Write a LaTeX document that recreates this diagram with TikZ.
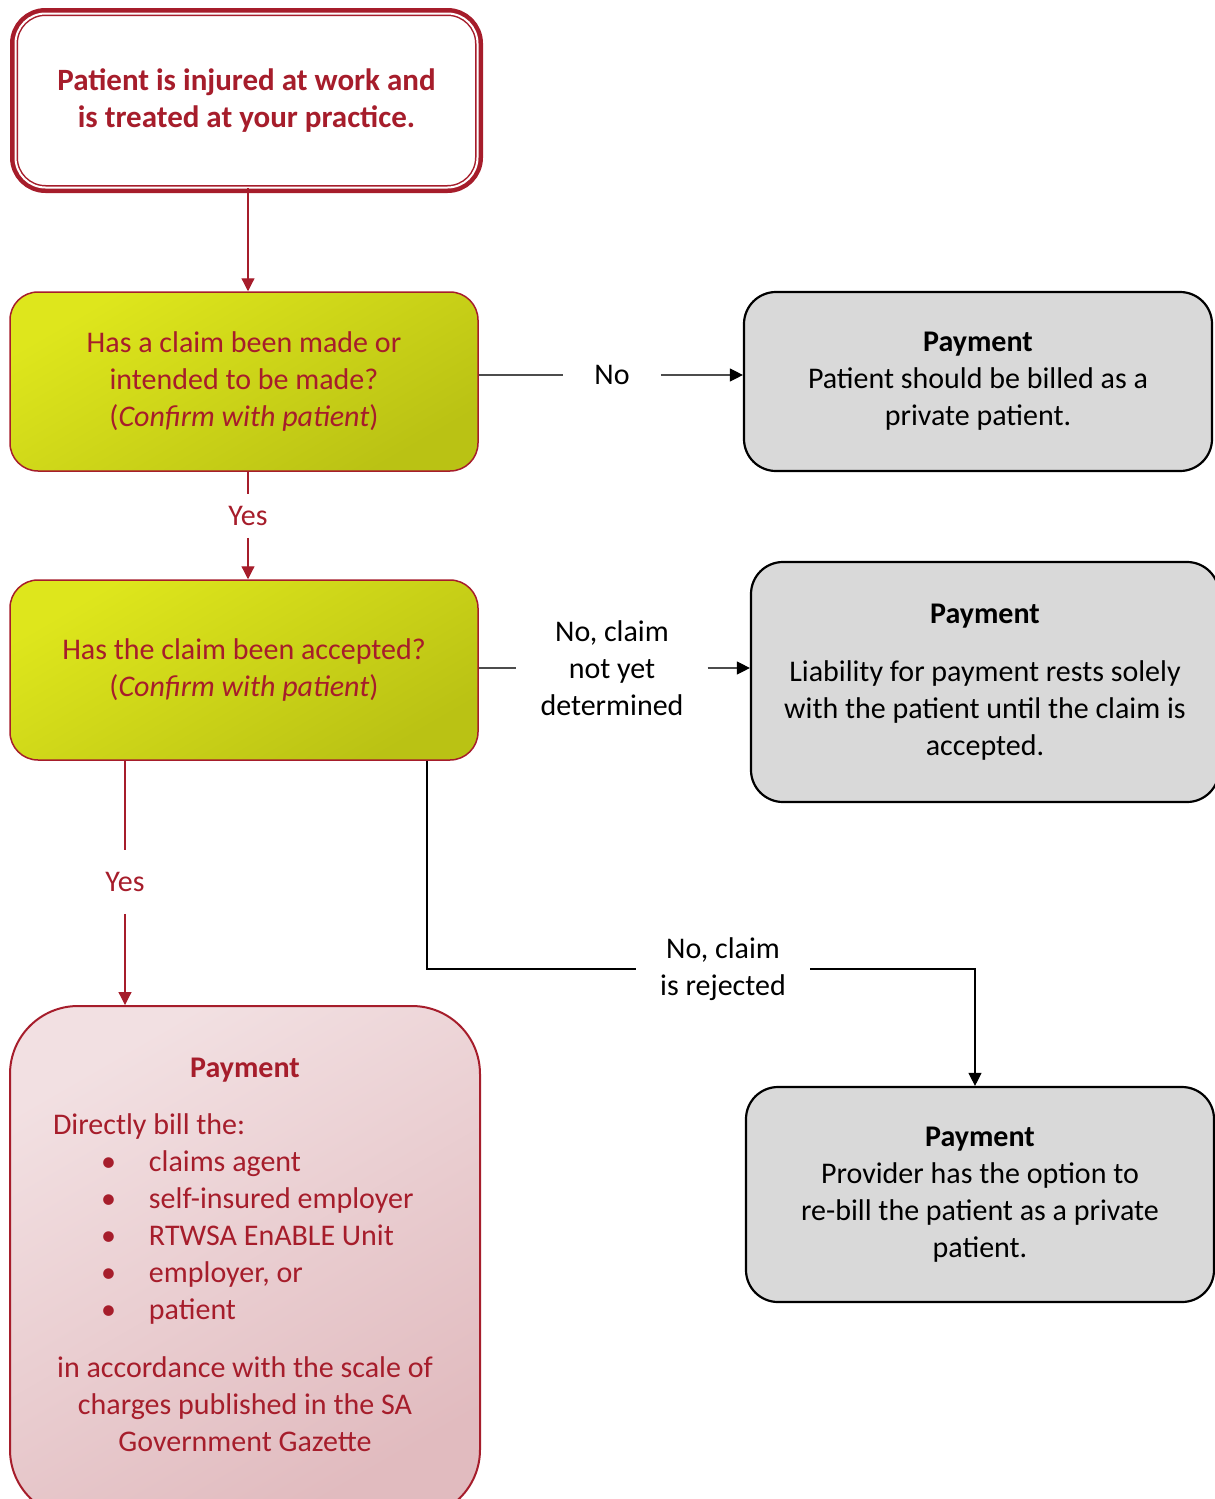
\documentclass[tikz,border=0pt]{standalone}
\usepackage{fontspec}
\usepackage{xcolor}
\usepackage{tikz}
\usetikzlibrary{arrows.meta}
\setmainfont{Carlito}
\setlength{\parindent}{0pt}
\definecolor{wsred}{RGB}{166,29,43}
\definecolor{limetop}{RGB}{222,230,28}
\definecolor{limebot}{RGB}{186,194,20}
\definecolor{pinktop}{RGB}{242,224,226}
\definecolor{pinkbot}{RGB}{225,187,191}
\definecolor{paygray}{RGB}{217,217,217}
\newcommand{\txt}{\fontsize{30}{37}\selectfont}
\newcommand{\pitem}[1]{\par\hspace*{48pt}\makebox[48pt][l]{\textbullet}#1}

\begin{document}
\begin{tikzpicture}[x=1pt,y=-1pt]
    \def\bw{468pt}

    \tikzstyle{start}=[draw=wsred,line width=1.5pt,double=white,double distance=2pt,preaction={draw=wsred,line width=11pt},fill=white,rounded corners=30pt,minimum width=462pt,minimum height=174pt,align=center,text=wsred,font=\fontsize{31}{37}\selectfont\bfseries]
    \tikzstyle{question}=[draw=wsred,line width=1.5pt,top color=limetop,bottom color=limebot,shading angle=30,rounded corners=28pt,minimum width=\bw,minimum height=179pt,align=center,text=wsred,font=\txt]
    \tikzstyle{payment}=[draw=black,line width=2.2pt,fill=paygray,rounded corners=32pt,minimum width=\bw,align=center,font=\txt]
    \tikzstyle{billing}=[draw=wsred,line width=2pt,top color=pinktop,bottom color=pinkbot,shading angle=30,rounded corners=68pt,minimum width=470pt,text width=384pt,inner ysep=52pt,align=flush center,text=wsred,font=\txt]
    \tikzstyle{branch}=[align=center,inner xsep=24pt,font=\txt]

    \useasboundingbox (0,0) rectangle (1215,1499);

    \node[start] (inj) at (246.5,100.5) {Patient is injured at work and\\is treated at your practice.};

    \node[question] (made) at (244,381.5) {Has a claim been made or\\intended to be made?\\(\textit{Confirm with patient})};
    \node[payment,minimum height=179pt] (priv) at (978,381.5) {\textbf{Payment}\\Patient should be billed as a\\private patient.};

    \node[question,minimum height=180pt] (accd) at (244,670) {Has the claim been accepted?\\(\textit{Confirm with patient})};
    \node[payment,minimum height=240pt] (liab) at (985,682) {\textbf{Payment}\\[21pt]Liability for payment rests solely\\with the patient until the claim is\\accepted.};

    \node[billing,anchor=north] (direct) at (245,1005) {\textbf{Payment}\par\vspace{20pt}
        {\raggedright Directly bill the:\pitem{claims agent}\pitem{self-insured employer}\pitem{RTWSA EnABLE Unit}\pitem{employer, or}\pitem{patient}\par}
        \vspace{21pt}
        in accordance with the scale of\\charges published in the SA\\Government Gazette\par\vspace*{14pt}};
    \node[payment,minimum height=215pt] (rebill) at (980,1194.5) {\textbf{Payment}\\Provider has the option to\\re-bill the patient as a private\\patient.};

    \node[branch,inner xsep=31pt] (no) at (612,375) {No};
    \node[branch,inner ysep=12pt,text=wsred] (yes1) at (248,516) {Yes};
    \node[branch] (notyet) at (612,668) {No, claim\\not yet\\determined};
    \node[branch,inner ysep=22pt,text=wsred] (yes2) at (125,882) {Yes};
    \node[branch] (reject) at (723,969) {No, claim\\is rejected};

    \coordinate (rjA) at (427,969);
    \coordinate (rjB) at (975,969);

    \tikzstyle{redline}=[draw=wsred,line width=1.2pt]
    \tikzstyle{redarr}=[redline,-{Triangle[width=13pt,length=13pt]}]
    \tikzstyle{greyline}=[draw=black!70,line width=1.2pt]
    \tikzstyle{greyarr}=[greyline,-{Triangle[width=13pt,length=13pt,color=black]}]
    \tikzstyle{rejline}=[draw=black,line width=2.2pt]

    \draw[redarr] (inj.south -| yes1) -- (made.north -| yes1);
    \draw[greyline] (made.east |- no) -- (no);
    \draw[greyarr] (no) -- (priv.west |- no);
    \draw[redline] (made.south -| yes1) -- (yes1);
    \draw[redarr] (yes1) -- (accd.north -| yes1);

    \draw[greyline] (accd.east |- notyet) -- (notyet);
    \draw[greyarr] (notyet) -- (liab.west |- notyet);
    \draw[redline] (accd.south -| yes2) -- (yes2);
    \draw[redarr] (yes2) -- (direct.north -| yes2);
    \draw[rejline] (accd.south -| rjA) -- (rjA) -- (reject);
    \draw[greyarr,draw=black] (reject) -- (rjB) -- (rebill.north -| rjB);
\end{tikzpicture}
\end{document}
